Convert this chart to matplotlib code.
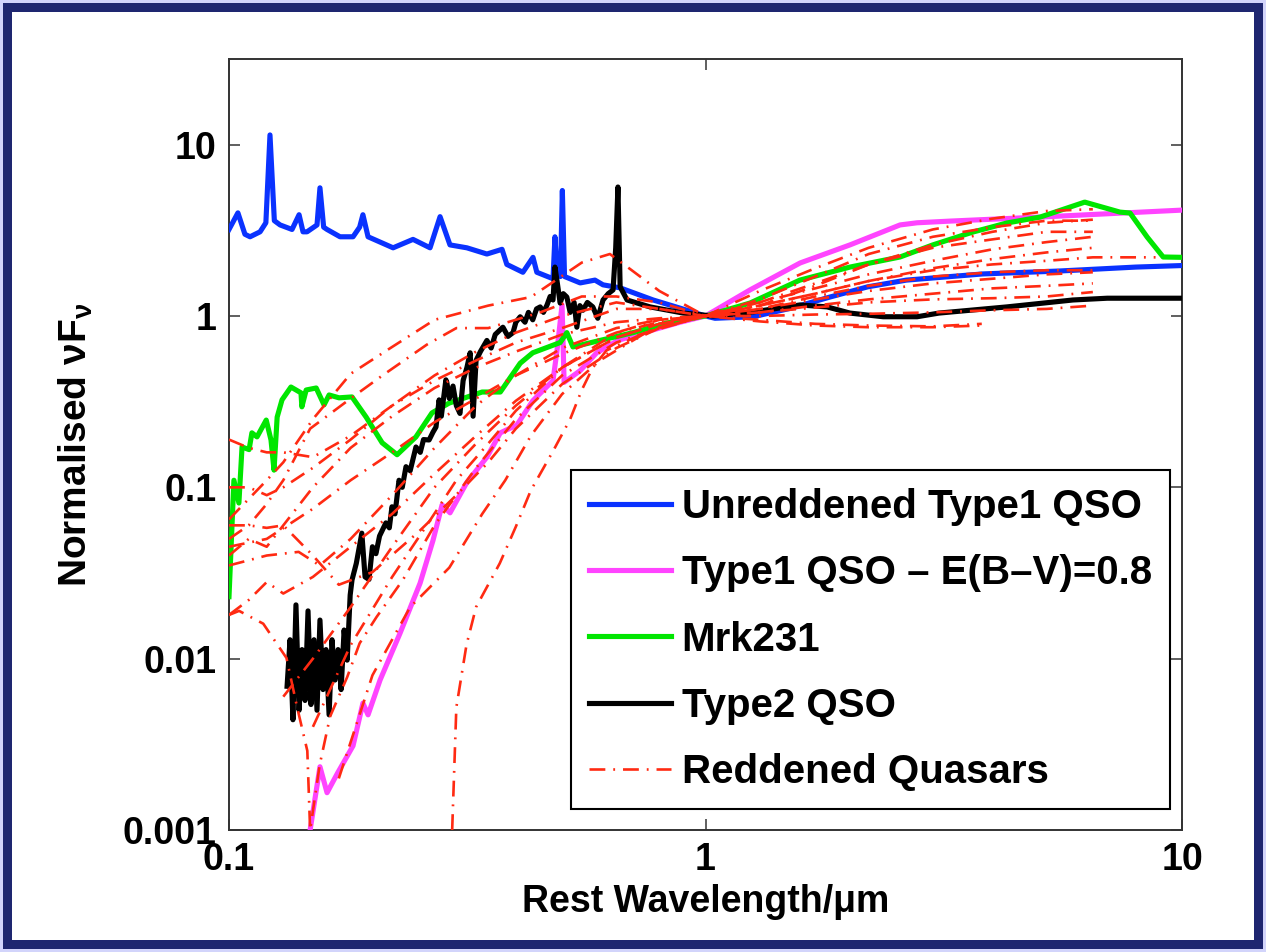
import numpy as np
import matplotlib
matplotlib.use("Agg")
import matplotlib.pyplot as plt
from matplotlib.patches import Rectangle

plt.rcParams['font.family'] = ['Liberation Sans', 'DejaVu Sans']
plt.rcParams['font.weight'] = 'bold'
plt.rcParams['mathtext.fontset'] = 'custom'
plt.rcParams['mathtext.rm'] = 'Liberation Sans:bold'
plt.rcParams['mathtext.it'] = 'Liberation Sans:bold'
plt.rcParams['mathtext.bf'] = 'Liberation Sans:bold'

# Unreddened Type1 QSO (blue)
blue_w = [0.100, 0.1044, 0.108, 0.1107, 0.1162, 0.1195, 0.1219, 0.1245, 0.128, 0.1356,
          0.1403, 0.143, 0.1458, 0.153, 0.1552, 0.158, 0.1606, 0.171, 0.1821, 0.188,
          0.191, 0.1958, 0.221, 0.2433, 0.2642, 0.2773, 0.2909, 0.3157, 0.3477, 0.3741,
          0.3829, 0.4138, 0.4345, 0.4426, 0.4786, 0.4831, 0.488, 0.496, 0.5007, 0.506,
          0.5458, 0.5861, 0.6095, 0.6619, 0.7766, 0.9147, 1.0, 1.047, 1.258, 1.51,
          1.824, 2.19, 2.64, 3.82, 5.52, 8.0, 10.0]
blue_f = [3.2, 4.0, 3.0, 2.9, 3.1, 3.5, 11.4, 3.6, 3.4, 3.2,
          3.9, 3.1, 3.1, 3.4, 5.6, 3.3, 3.2, 2.9, 2.9, 3.3,
          3.9, 2.9, 2.5, 2.8, 2.5, 3.8, 2.6, 2.5, 2.3, 2.45,
          2.0, 1.8, 2.2, 1.8, 1.65, 2.9, 1.8, 1.7, 5.4, 1.7,
          1.56, 1.62, 1.52, 1.46, 1.24, 1.08, 1.0, 0.97, 0.99, 1.11,
          1.29, 1.48, 1.62, 1.76, 1.83, 1.93, 1.97]

# Type1 QSO reddened E(B-V)=0.8 (magenta)
mag_w = [0.148, 0.1552, 0.1606, 0.169, 0.1821, 0.191, 0.1958, 0.2075, 0.2286, 0.2518,
         0.268, 0.280, 0.291, 0.3157, 0.3477, 0.371, 0.402, 0.434, 0.4786, 0.488,
         0.500, 0.505, 0.5458, 0.591, 0.655, 0.765, 0.885, 1.0, 1.24, 1.58,
         2.01, 2.56, 2.78, 3.26, 5.04, 10.0]
mag_f = [0.001, 0.00234, 0.00165, 0.00215, 0.0031, 0.0055, 0.0047, 0.0075, 0.0141, 0.0276,
         0.049, 0.079, 0.071, 0.107, 0.150, 0.208, 0.231, 0.32, 0.42, 0.63,
         1.16, 0.41, 0.48, 0.61, 0.72, 0.82, 0.92, 1.0, 1.42, 2.04,
         2.6, 3.40, 3.5, 3.58, 3.78, 4.15]

# Mrk231 (green)
grn_w = [0.100, 0.1024, 0.1049, 0.1065, 0.1102, 0.1117, 0.1145, 0.1197, 0.1225, 0.1243,
         0.1262, 0.1292, 0.1349, 0.1416, 0.1422, 0.1452, 0.1524, 0.1583, 0.1622, 0.1702,
         0.1812, 0.194, 0.2096, 0.2253, 0.2468, 0.2667, 0.2895, 0.3398, 0.371, 0.4084,
         0.434, 0.4954, 0.5117, 0.527, 0.6005, 0.705, 0.83, 0.974, 1.0, 1.24,
         1.578, 2.01, 2.56, 3.0, 3.64, 4.29, 5.04, 6.25, 7.41, 7.78,
         8.45, 9.13, 10.0]
grn_f = [0.023, 0.11, 0.081, 0.172, 0.166, 0.208, 0.197, 0.247, 0.189, 0.126,
         0.257, 0.324, 0.385, 0.356, 0.295, 0.37, 0.38, 0.303, 0.346, 0.333,
         0.337, 0.257, 0.182, 0.155, 0.197, 0.272, 0.31, 0.36, 0.36, 0.53,
         0.61, 0.70, 0.80, 0.66, 0.72, 0.80, 0.91, 0.99, 1.0, 1.19,
         1.62, 1.93, 2.21, 2.6, 3.09, 3.49, 3.78, 4.62, 4.04, 3.99,
         2.89, 2.21, 2.2]

# Type2 QSO (black)
blk_w = [0.1324, 0.1343, 0.1362, 0.1382, 0.1403, 0.1423, 0.1444, 0.1465, 0.1486, 0.1508,
         0.153, 0.1552, 0.1575, 0.1598, 0.1622, 0.1645, 0.1669, 0.1694, 0.1719, 0.1744,
         0.177, 0.1796, 0.1812, 0.185, 0.190, 0.193, 0.1967, 0.200, 0.2034, 0.207,
         0.2134, 0.217, 0.2198, 0.223, 0.2274, 0.231, 0.2352, 0.240, 0.2468, 0.252,
         0.256, 0.263, 0.268, 0.2719, 0.276, 0.279, 0.2852, 0.2865, 0.290, 0.2952,
         0.300, 0.3053, 0.310, 0.3157, 0.3207, 0.3253, 0.330, 0.337, 0.3477, 0.355,
         0.362, 0.3757, 0.385, 0.3945, 0.400, 0.4084, 0.418, 0.425, 0.434, 0.442,
         0.4499, 0.457, 0.465, 0.472, 0.4786, 0.4831, 0.488, 0.4954, 0.503, 0.5117,
         0.520, 0.530, 0.537, 0.545, 0.553, 0.565, 0.5801, 0.5941, 0.6095, 0.625,
         0.6397, 0.648, 0.655, 0.662, 0.6846, 0.765, 0.898, 1.037, 1.24, 1.578,
         1.80, 2.01, 2.36, 2.78, 3.09, 4.29, 5.90, 6.97, 10.0]
blk_f = [0.0069, 0.0129, 0.0044, 0.0206, 0.005, 0.0113, 0.0057, 0.019, 0.0054, 0.0129,
         0.005, 0.0168, 0.0066, 0.0113, 0.0047, 0.0129, 0.0075, 0.0113, 0.0066, 0.0147,
         0.0098, 0.0235, 0.0288, 0.036, 0.054, 0.030, 0.029, 0.045, 0.041, 0.052,
         0.062, 0.058, 0.077, 0.070, 0.110, 0.100, 0.132, 0.125, 0.172, 0.160,
         0.190, 0.189, 0.210, 0.225, 0.324, 0.26, 0.424, 0.41, 0.33, 0.39,
         0.30, 0.27, 0.42, 0.50, 0.61, 0.26, 0.55, 0.62, 0.72, 0.65,
         0.78, 0.86, 0.76, 0.80, 0.92, 0.99, 0.92, 1.05, 0.95, 1.10,
         1.13, 1.05, 1.16, 1.30, 1.24, 1.93, 1.60, 1.19, 1.35, 1.29,
         1.05, 1.20, 0.86, 1.15, 1.08, 1.20, 1.13, 0.97, 1.24, 1.35,
         1.42, 2.5, 5.66, 1.48, 1.24, 1.13, 1.04, 1.0, 1.05, 1.16,
         1.13, 1.04, 0.99, 0.99, 1.04, 1.13, 1.24, 1.27, 1.27]

# Reddened quasars (red dash-dot), one list per object
red_w = [
    [0.1, 0.12, 0.13, 0.15, 0.18, 0.22, 0.27, 0.35, 0.43, 0.55, 0.63, 0.7, 0.8, 1.0, 1.3, 1.7, 2.2, 3.0, 4.0, 5.2, 6.5],
    [0.1, 0.11, 0.12, 0.13, 0.148, 0.18, 0.21, 0.26, 0.3, 0.35, 0.45, 0.55, 0.65, 0.8, 1.0, 1.3, 1.7, 2.2, 3.0, 4.0, 5.2, 6.5],
    [0.1, 0.11, 0.12, 0.13, 0.15, 0.18, 0.22, 0.27, 0.33, 0.4, 0.5, 0.65, 0.8, 1.0, 1.3, 1.7, 2.2, 3.0, 4.0, 5.2, 6.5],
    [0.1, 0.11, 0.12, 0.13, 0.15, 0.18, 0.22, 0.27, 0.33, 0.4, 0.5, 0.65, 0.8, 1.0, 1.3, 1.7, 2.2, 3.0, 4.0, 5.2, 6.5],
    [0.1, 0.105, 0.118, 0.132, 0.139, 0.146, 0.148, 0.155, 0.163, 0.177, 0.188, 0.204, 0.232, 0.27, 0.33, 0.4, 0.5, 0.65, 0.8, 1.0, 1.3, 1.7, 2.2, 3.0, 4.0, 5.2, 6.5],
    [0.294, 0.30, 0.315, 0.33, 0.37, 0.40, 0.43, 0.48, 0.52, 0.55, 0.58, 0.62, 0.77, 0.9, 1.0, 1.3, 1.7, 2.2, 3.0, 4.0, 5.2, 6.5, 8.8],
    [0.17, 0.2, 0.24, 0.29, 0.34, 0.38, 0.43, 0.5, 0.6, 0.75, 1.0, 1.3, 1.7, 2.2, 3.0, 4.0, 5.2, 6.5],
    [0.1, 0.11, 0.12, 0.13, 0.15, 0.18, 0.22, 0.27, 0.33, 0.4, 0.5, 0.65, 0.8, 1.0, 1.3, 1.7, 2.2, 3.0, 4.0, 5.2, 6.5],
    [0.1, 0.11, 0.12, 0.13, 0.15, 0.17, 0.2, 0.25, 0.3, 0.35, 0.4, 0.5, 0.65, 0.8, 1.0, 1.3, 1.7, 2.2, 3.0, 3.8],
    [0.1, 0.12, 0.14, 0.155, 0.18, 0.22, 0.27, 0.33, 0.4, 0.5, 0.65, 0.8, 1.0, 1.3, 1.7, 2.2, 3.0, 4.0, 5.2, 6.5],
    [0.1, 0.11, 0.12, 0.13, 0.15, 0.18, 0.22, 0.27, 0.33, 0.4, 0.5, 0.65, 0.8, 1.0, 1.3, 1.7, 2.2, 3.0, 4.0, 5.2, 6.5],
    [0.15, 0.18, 0.22, 0.26, 0.3, 0.35, 0.4, 0.5, 0.65, 0.8, 1.0, 1.3, 1.7, 2.2, 3.0, 4.0, 5.2, 6.5],
    [0.13, 0.15, 0.18, 0.22, 0.27, 0.33, 0.4, 0.5, 0.65, 0.8, 1.0, 1.3, 1.7, 2.2, 3.0, 3.8],
    [0.1, 0.12, 0.15, 0.18, 0.22, 0.27, 0.33, 0.4, 0.5, 0.65, 0.8, 1.0, 1.3, 1.7, 2.2, 3.0, 4.0, 5.2, 6.5],
]
red_f = [
    [0.065, 0.11, 0.14, 0.25, 0.46, 0.66, 0.95, 1.15, 1.29, 2.05, 2.3, 1.85, 1.4, 1.0, 1.2, 1.45, 1.75, 2.1, 2.45, 2.7, 2.9],
    [0.05, 0.06, 0.08, 0.11, 0.22, 0.33, 0.45, 0.68, 0.85, 0.85, 1.05, 1.3, 1.3, 1.2, 1.0, 1.1, 1.3, 1.5, 1.7, 1.8, 1.85, 1.85],
    [0.19, 0.17, 0.16, 0.16, 0.15, 0.2, 0.3, 0.42, 0.55, 0.7, 0.85, 1.1, 1.1, 1.0, 1.15, 1.5, 2.0, 2.6, 3.1, 3.5, 3.65],
    [0.04, 0.05, 0.045, 0.06, 0.1, 0.17, 0.26, 0.38, 0.5, 0.62, 0.78, 0.92, 0.97, 1.0, 1.05, 1.12, 1.2, 1.25, 1.27, 1.3, 1.38],
    [0.018, 0.019, 0.016, 0.0101, 0.0052, 0.0029, 0.001, 0.0024, 0.0046, 0.0078, 0.0123, 0.0175, 0.029, 0.06, 0.13, 0.25, 0.45, 0.7, 0.85, 1.0, 1.0, 1.02, 1.03, 1.05, 1.08, 1.1, 1.15],
    [0.001, 0.0052, 0.012, 0.02, 0.036, 0.059, 0.096, 0.165, 0.25, 0.37, 0.5, 0.63, 0.83, 0.95, 1.0, 1.15, 1.35, 1.6, 1.85, 2.0, 2.1, 2.2, 2.2],
    [0.002, 0.008, 0.02, 0.034, 0.07, 0.11, 0.2, 0.35, 0.55, 0.8, 1.0, 1.2, 1.55, 2.0, 2.5, 2.8, 3.1, 3.1],
    [0.018, 0.022, 0.028, 0.024, 0.03, 0.045, 0.07, 0.12, 0.2, 0.32, 0.5, 0.75, 0.9, 1.0, 1.05, 1.15, 1.25, 1.35, 1.45, 1.5, 1.55],
    [0.06, 0.06, 0.058, 0.06, 0.04, 0.027, 0.032, 0.055, 0.09, 0.14, 0.22, 0.4, 0.65, 0.85, 1.0, 0.95, 0.9, 0.88, 0.87, 0.9],
    [0.035, 0.04, 0.042, 0.035, 0.05, 0.09, 0.17, 0.3, 0.45, 0.65, 0.85, 0.95, 1.0, 1.15, 1.35, 1.6, 1.9, 2.15, 2.35, 2.5],
    [0.1, 0.1, 0.09, 0.1, 0.13, 0.19, 0.3, 0.45, 0.62, 0.8, 1.0, 1.2, 1.1, 1.0, 1.25, 1.7, 2.3, 2.9, 3.3, 3.6, 3.6],
    [0.004, 0.012, 0.03, 0.06, 0.11, 0.18, 0.28, 0.5, 0.75, 0.9, 1.0, 1.1, 1.25, 1.4, 1.55, 1.65, 1.75, 1.8],
    [0.006, 0.01, 0.02, 0.045, 0.1, 0.18, 0.3, 0.5, 0.8, 0.95, 1.0, 0.93, 0.88, 0.86, 0.86, 0.88],
    [0.045, 0.05, 0.075, 0.11, 0.16, 0.24, 0.33, 0.45, 0.6, 0.8, 0.92, 1.0, 1.4, 1.9, 2.5, 3.2, 3.7, 4.1, 4.2],
]

labels = ['Unreddened Type1 QSO', 'Type1 QSO \u2013 E(B\u2013V)=0.8', 'Mrk231',
          'Type2 QSO', 'Reddened Quasars']
xticks = [0.1, 1, 10]
xtick_labels = ['0.1', '1', '10']
yticks = [0.001, 0.01, 0.1, 1, 10]
ytick_labels = ['0.001', '0.01', '0.1', '1', '10']

W, H = 1266, 952
fig = plt.figure(figsize=(W / 100, H / 100), dpi=100, facecolor='#d2d4fb')

# navy frame with white inside
fig.add_artist(Rectangle((3 / W, 3 / H), 1 - 6 / W, 1 - 6 / H, transform=fig.transFigure,
                         facecolor='#1e2670', edgecolor='none', zorder=-10))
fig.add_artist(Rectangle((12 / W, 12 / H), 1 - 24 / W, 1 - 24 / H, transform=fig.transFigure,
                         facecolor='white', edgecolor='none', zorder=-9))

ax = fig.add_axes([229 / W, (H - 830) / H, (1182 - 229) / W, (830 - 59) / H])
ax.set_facecolor('none')

red_col = '#ff2a12'
h1, = ax.plot(blue_w, blue_f, color='#0a32ff', lw=3.7, zorder=3)
h2, = ax.plot(mag_w, mag_f, color='#ff44ff', lw=3.7, zorder=3)
h3, = ax.plot(grn_w, grn_f, color='#00e600', lw=3.7, zorder=3)
h4, = ax.plot(blk_w, blk_f, color='black', lw=3.7, zorder=3)
for rw, rf in zip(red_w, red_f):
    h5, = ax.plot(rw, rf, color=red_col, lw=1.9, dashes=(6, 3, 0.7, 3), zorder=4)

ax.set_xscale('log')
ax.set_yscale('log')
ax.set_xlim(0.1, 10)
ax.set_ylim(0.001, 10 ** 1.5)

ax.xaxis.set_major_locator(matplotlib.ticker.FixedLocator(xticks))
ax.yaxis.set_major_locator(matplotlib.ticker.FixedLocator(yticks))
ax.xaxis.set_minor_locator(matplotlib.ticker.NullLocator())
ax.yaxis.set_minor_locator(matplotlib.ticker.NullLocator())
ax.set_xticklabels(xtick_labels)
ax.set_yticklabels(ytick_labels)
ax.tick_params(which='major', direction='in', length=8, width=1.2, color='#444444',
               top=True, right=True, labelsize=27, pad=9)
for s in ax.spines.values():
    s.set_linewidth(1.4)
    s.set_color('#333333')

ax.set_xlabel('Rest Wavelength/\u03bcm', fontsize=27, fontweight='bold', labelpad=4)
ax.set_ylabel(r'Normalised $\nu$F$_\nu$', fontsize=28, fontweight='bold', labelpad=20)

leg = ax.legend([h1, h2, h3, h4, h5], labels, loc='lower right',
                bbox_to_anchor=(0.9874, 0.0272), fontsize=29, frameon=True, fancybox=False,
                framealpha=1, edgecolor='black', handlelength=2.03, handletextpad=0.27,
                labelspacing=0.70, borderpad=0.45, borderaxespad=0)
leg.get_frame().set_linewidth(1.5)
for t in leg.get_texts():
    t.set_fontweight('bold')

fig.savefig('out.png', dpi=100, facecolor=fig.get_facecolor())
